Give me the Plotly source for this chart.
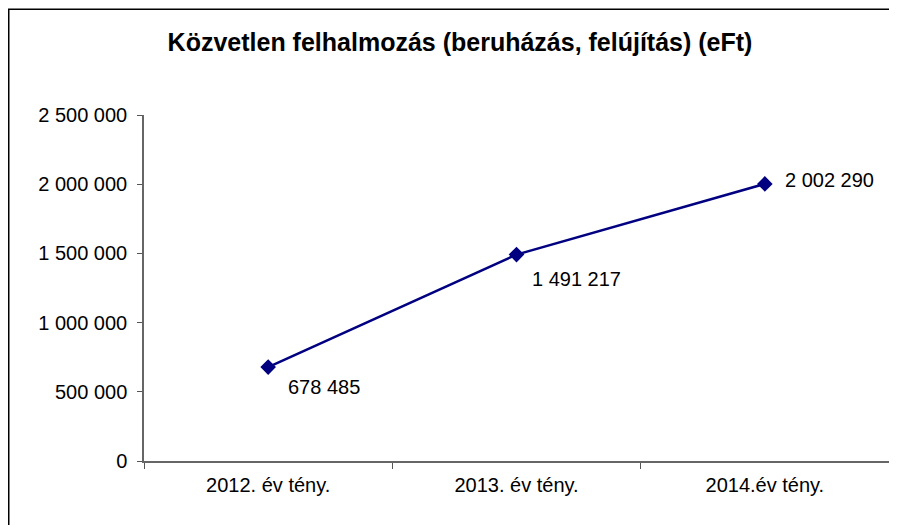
import plotly.graph_objects as go

categories = ["2012. év tény.", "2013. év tény.", "2014.év tény."]
values = [678485, 1491217, 2002290]
value_labels = ["678 485", "1 491 217", "2 002 290"]
y_tick_vals = [0, 500000, 1000000, 1500000, 2000000, 2500000]
y_tick_text = ["0", "500 000", "1 000 000", "1 500 000", "2 000 000", "2 500 000"]
title_text = "Közvetlen felhalmozás (beruházás, felújítás) (eFt)"

W, H = 897, 525
ml, mr, mt, mb = 136, 16, 107, 72
pw, ph = W - ml - mr, H - mt - mb

FONT = "Liberation Sans, Arial, sans-serif"
NAVY = "#000080"

fig = go.Figure()
fig.add_trace(go.Scatter(
    x=categories, y=values, mode="lines+markers",
    line=dict(color=NAVY, width=2.5),
    marker=dict(symbol="diamond", size=12, color=NAVY),
    hoverinfo="skip", showlegend=False,
))

label_shifts = [(18, -20), (13, -24), (18, 4)]
for c, v, t, (dx, dy) in zip(categories, values, value_labels, label_shifts):
    fig.add_annotation(x=c, y=v, text=t, showarrow=False, xanchor="left",
                       yanchor="middle", xshift=dx, yshift=dy,
                       font=dict(family=FONT, size=20, color="black"))

def px_x(p):
    return (p - ml) / pw

def px_y(p):
    return (H - mb - p) / ph

fig.add_shape(type="rect", xref="paper", yref="paper",
              x0=px_x(0.75), x1=px_x(W + 20), y0=px_y(1.25), y1=px_y(H + 20),
              line=dict(color="black", width=1.5), fillcolor="rgba(0,0,0,0)")

fig.update_layout(
    width=W, height=H,
    margin=dict(l=ml, r=mr, t=mt, b=mb, autoexpand=False),
    paper_bgcolor="white", plot_bgcolor="white",
    font=dict(family=FONT, size=20, color="black"),
    title=dict(text="<b>" + title_text + "</b>", x=452 / W, xanchor="center",
               xref="container", y=1 - 34 / H, yref="container", yanchor="middle",
               font=dict(family=FONT, size=25, color="black")),
    xaxis=dict(type="category", range=[-0.5, 2.5], tickson="boundaries",
               ticks="outside", ticklen=6, tickcolor="#555555",
               showline=True, linecolor="#666666", linewidth=1.5,
               showgrid=False, zeroline=False, ticklabelstandoff=5,
               tickfont=dict(family=FONT, size=20, color="black")),
    yaxis=dict(range=[0, 2500000], tickvals=y_tick_vals, ticktext=y_tick_text,
               ticks="outside", ticklen=5, tickcolor="#555555",
               showline=True, linecolor="#666666", linewidth=1.5,
               showgrid=False, zeroline=False, ticklabelstandoff=6,
               tickfont=dict(family=FONT, size=20, color="black")),
)

fig.write_html("out.html")
